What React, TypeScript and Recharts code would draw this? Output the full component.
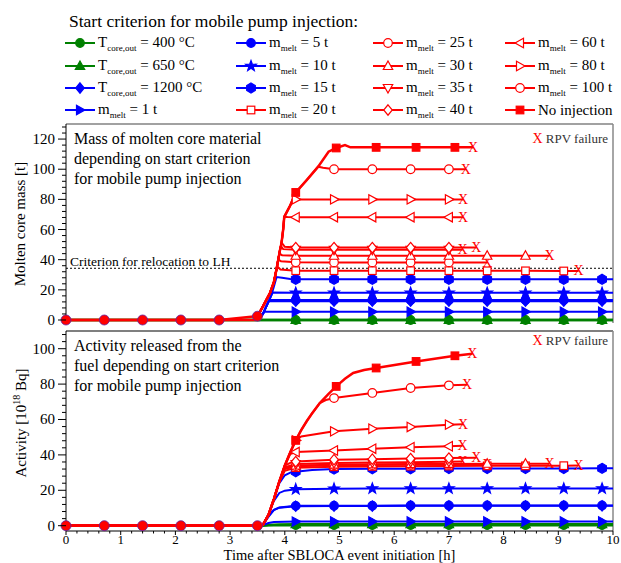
import React from 'react';
import { LineChart, Line, XAxis, YAxis, ReferenceLine } from 'recharts';

const FONT = "'Liberation Serif', 'Times New Roman', Times, serif";
const RED = '#ff0000';
const BLUE = '#0000ff';
const GREEN = '#008000';

// axis ticks
const X_MAJOR = [0, 1, 2, 3, 4, 5, 6, 7, 8, 9, 10];
const MASS_MAJOR = [0, 20, 40, 60, 80, 100, 120];
const ACT_MAJOR = [0, 20, 40, 60, 80, 100];
const X_TICKS = Array.from({ length: 51 }, (_, i) => Math.round(i * 2) / 10);
const MASS_TICKS = Array.from({ length: 33 }, (_, i) => i * 4);
const ACT_TICKS = Array.from({ length: 28 }, (_, i) => i * 4);

// marker times [h]
const MK = [4.2, 4.9, 5.6, 6.3, 7.0, 7.7, 8.4, 9.1, 9.8];
const MK_70 = [4.2, 4.9, 5.6, 6.3, 7.0];
const MK_84 = [4.2, 4.9, 5.6, 6.3, 7.0, 7.7, 8.4];
const MK_91 = [4.2, 4.9, 5.6, 6.3, 7.0, 7.7, 8.4, 9.1];
const MK_100 = [4.9, 5.6, 6.3, 7.0];
const MK_NOINJ = [4.2, 4.94, 5.67, 6.4, 7.11];

// common phase before core degradation
const PRE_T = [0, 0.7, 1.4, 2.1, 2.8, 3.5];
const PRE_MASS = [0, 0, 0, 0, 0, 2.5];
const PRE_ACT = [0, 0, 0, 0, 0, 0];

// ---- green: T_core,out criteria
const T_FLAT = [0, 3.5, 4.2, 4.9, 5.6, 6.3, 7.0, 7.7, 8.4, 9.1, 9.8, 10];
const g400M = [0, 0, 0, 0, 0, 0, 0, 0, 0, 0, 0, 0];
const g650M = [0, 0, 0, 0, 0, 0, 0, 0, 0, 0, 0, 0];
const gActT = [0, 3.55, 3.7, 3.9, 4.2, 4.9, 5.6, 6.3, 7.0, 7.7, 8.4, 9.1, 9.8, 10];
const g400A = [0, 0, 0.2, 0.3, 0.3, 0.3, 0.3, 0.3, 0.3, 0.3, 0.3, 0.3, 0.3, 0.3];
const g650A = [0, 0, 0.4, 0.7, 0.8, 0.8, 0.8, 0.8, 0.8, 0.8, 0.8, 0.8, 0.8, 0.8];

// ---- blue
const b1200MT = [0, 3.45, 3.5, 3.55, 3.6, 3.65, 3.7, 3.72, 4.2, 4.9, 5.6, 6.3, 7.0, 7.7, 8.4, 9.1, 9.8, 10];
const b1200MV = [0, 0, 0.5, 1.5, 4, 8, 12, 12.6, 12.5, 12.5, 12.5, 12.5, 12.5, 12.5, 12.5, 12.5, 12.5, 12.5];
const b1200AT = [0, 3.55, 3.6, 3.7, 3.8, 3.9, 4.2, 4.9, 5.6, 6.3, 7.0, 7.7, 8.4, 9.1, 9.8, 10];
const b1200AV = [0, 0, 0.5, 5, 8.8, 10.2, 11, 11.1, 11.1, 11.2, 11.2, 11.2, 11.2, 11.2, 11.2, 11.2];

const b1MT = [0, 3.45, 3.5, 3.55, 3.6, 3.63, 4.2, 4.9, 5.6, 6.3, 7.0, 7.7, 8.4, 9.1, 9.8, 10];
const b1MV = [0, 0, 0.5, 2, 4.5, 5.5, 5.5, 5.5, 5.5, 5.5, 5.5, 5.5, 5.5, 5.5, 5.5, 5.5];
const b1AT = [0, 3.55, 3.6, 3.7, 3.8, 4.2, 4.9, 5.6, 6.3, 7.0, 7.7, 8.4, 9.1, 9.8, 10];
const b1AV = [0, 0, 0.3, 1.5, 2.1, 2.3, 2.4, 2.4, 2.4, 2.4, 2.4, 2.4, 2.4, 2.4, 2.4];

const b5MT = [0, 3.45, 3.5, 3.55, 3.6, 3.65, 3.7, 3.73, 4.2, 4.9, 5.6, 6.3, 7.0, 7.7, 8.4, 9.1, 9.8, 10];
const b5MV = [0, 0, 0.5, 1.5, 4, 8, 12, 13.3, 13.3, 13.3, 13.3, 13.3, 13.3, 13.3, 13.3, 13.3, 13.3, 13.3];
const b5AT = [0, 3.55, 3.6, 3.7, 3.8, 3.9, 4.2, 4.9, 5.6, 6.3, 7.0, 7.7, 8.4, 9.1, 9.8, 10];
const b5AV = [0, 0, 0.5, 5.5, 9, 10.3, 11.2, 11.3, 11.3, 11.4, 11.4, 11.4, 11.4, 11.4, 11.4, 11.4];

const b10MT = [0, 3.45, 3.5, 3.55, 3.6, 3.65, 3.7, 3.75, 3.78, 4.2, 4.9, 5.6, 6.3, 7.0, 7.7, 8.4, 9.1, 9.8, 10];
const b10MV = [0, 0, 0.5, 1.5, 4, 8, 12, 16, 18.3, 18, 18, 18, 18, 18, 18, 18, 18, 18, 18];
const b10AT = [0, 3.55, 3.6, 3.7, 3.8, 3.9, 4.0, 4.2, 4.9, 5.6, 6.3, 7.0, 7.7, 8.4, 9.1, 9.8, 10];
const b10AV = [0, 0, 0.5, 6, 14, 18.5, 19.8, 20.6, 20.9, 21, 21, 21, 21, 21, 21, 21, 21];

const b15MT = [0, 3.45, 3.5, 3.55, 3.6, 3.65, 3.7, 3.75, 3.8, 3.85, 3.95, 4.1, 4.2, 4.9, 5.6, 6.3, 7.0, 7.7, 8.4, 9.1, 9.8, 10];
const b15MV = [0, 0, 0.5, 1.5, 4, 8, 12, 16, 22, 28.5, 28, 27.2, 27, 27, 27, 27, 27, 27, 27, 27, 27, 27];
const b15AT = [0, 3.55, 3.6, 3.7, 3.8, 3.9, 4.0, 4.1, 4.2, 4.5, 4.9, 5.6, 6.3, 7.0, 7.7, 8.4, 9.1, 9.8, 10];
const b15AV = [0, 0, 0.5, 6, 15, 24, 28.5, 30, 30.5, 31.5, 32, 32.2, 32.2, 32.3, 32.3, 32.3, 32.3, 32.4, 32.4];

// ---- red: melt mass criteria and no injection
const r20MT = [0, 3.45, 3.5, 3.6, 3.73, 3.8, 3.85, 3.87, 3.92, 4.2, 4.9, 5.6, 6.3, 7.0, 7.7, 8.4, 9.1, 9.37];
const r20MV = [0, 0, 2.5, 9, 18, 25, 34, 35.3, 33.5, 32.7, 32.7, 32.7, 32.7, 32.7, 32.6, 32.6, 32.5, 32.5];
const r20AT = [0, 3.55, 3.6, 3.7, 3.8, 3.9, 4.0, 4.2, 4.9, 5.6, 6.3, 7.0, 7.7, 8.4, 9.1, 9.37];
const r20AV = [0, 0, 0.5, 6, 15, 25, 31, 32.8, 33.3, 33.5, 33.6, 33.7, 33.8, 33.8, 33.9, 34];

const r25MT = [0, 3.45, 3.5, 3.6, 3.73, 3.8, 3.85, 3.88, 3.93, 4.2, 4.9, 5.6, 6.3, 7.0, 7.7];
const r25MV = [0, 0, 2.5, 9, 18, 25, 34, 40, 39, 38.3, 38.2, 38.2, 38.2, 38.2, 38.2];
const r25AT = [0, 3.55, 3.6, 3.7, 3.8, 3.9, 4.0, 4.2, 4.9, 5.6, 6.3, 7.0, 7.7];
const r25AV = [0, 0, 0.5, 6, 15, 25, 32, 33.6, 34.1, 34.3, 34.4, 34.5, 34.6];

const r30MT = [0, 3.45, 3.5, 3.6, 3.73, 3.8, 3.85, 3.88, 3.9, 3.95, 4.2, 4.9, 5.6, 6.3, 7.0, 7.7, 8.4, 8.84];
const r30MV = [0, 0, 2.5, 9, 18, 25, 34, 40, 44, 43, 42.6, 42.6, 42.6, 42.6, 42.6, 42.6, 42.6, 42.6];
const r30AT = [0, 3.55, 3.6, 3.7, 3.8, 3.9, 4.0, 4.2, 4.9, 5.6, 6.3, 7.0, 7.7, 8.4, 8.84];
const r30AV = [0, 0, 0.5, 6, 15, 25, 32.5, 34, 34.5, 34.7, 34.8, 34.9, 35, 35, 35];

const r35MT = [0, 3.45, 3.5, 3.6, 3.73, 3.8, 3.85, 3.88, 3.91, 3.93, 3.97, 4.2, 4.9, 5.6, 6.3, 7.0, 7.25];
const r35MV = [0, 0, 2.5, 9, 18, 25, 34, 40, 46, 49, 47, 46.6, 46.6, 46.6, 46.6, 46.6, 46.6];
const r35AT = [0, 3.55, 3.6, 3.7, 3.8, 3.9, 4.0, 4.2, 4.9, 5.6, 6.3, 7.0, 7.25];
const r35AV = [0, 0, 0.5, 6, 15, 25, 33, 34.8, 35.4, 35.7, 35.9, 36.1, 36.2];

const r40MT = [0, 3.45, 3.5, 3.6, 3.73, 3.8, 3.85, 3.88, 3.91, 3.94, 3.96, 4.0, 4.2, 4.9, 5.6, 6.3, 7.0, 7.5];
const r40MV = [0, 0, 2.5, 9, 18, 25, 34, 40, 46, 51, 50.5, 48.5, 48, 48, 48, 48, 48, 48];
const r40AT = [0, 3.55, 3.6, 3.7, 3.8, 3.9, 4.0, 4.1, 4.2, 4.9, 5.6, 6.3, 7.0, 7.5];
const r40AV = [0, 0, 0.5, 6, 15, 25, 34, 35.5, 36.2, 37.3, 37.6, 37.9, 38.2, 38.4];

const r60MT = [0, 3.45, 3.5, 3.6, 3.73, 3.8, 3.85, 3.88, 3.91, 3.94, 3.97, 3.99, 4.05, 4.2, 4.9, 5.6, 6.3, 7.0, 7.26];
const r60MV = [0, 0, 2.5, 9, 18, 25, 34, 40, 46, 51, 60, 68.4, 68.3, 68.2, 68.2, 68.2, 68.2, 68.2, 68.2];
const r60AT = [0, 3.55, 3.6, 3.7, 3.8, 3.9, 4.0, 4.1, 4.2, 4.9, 5.6, 6.3, 7.0, 7.25];
const r60AV = [0, 0, 0.5, 6, 15, 25, 34, 40.5, 41.6, 42.5, 43.5, 44.3, 44.9, 45.1];

const r80MT = [0, 3.45, 3.5, 3.6, 3.73, 3.8, 3.85, 3.88, 3.91, 3.94, 3.97, 3.99, 4.1, 4.15, 4.2, 4.9, 5.6, 6.3, 7.0, 7.26];
const r80MV = [0, 0, 2.5, 9, 18, 25, 34, 40, 46, 51, 60, 68.4, 76, 80.5, 80, 80, 80, 80, 80, 80];
const r80AT = [0, 3.55, 3.6, 3.7, 3.8, 3.9, 4.0, 4.1, 4.2, 4.3, 4.9, 5.6, 6.3, 7.0, 7.26];
const r80AV = [0, 0, 0.5, 6, 15, 25, 34, 41.5, 48.2, 50.4, 53.3, 54.8, 55.8, 57.1, 57.3];

const r100MT = [0, 3.45, 3.5, 3.6, 3.73, 3.8, 3.85, 3.88, 3.91, 3.94, 3.97, 3.99, 4.1, 4.2, 4.4, 4.61, 4.7, 4.9, 5.6, 6.3, 7.0, 7.31];
const r100MV = [0, 0, 2.5, 9, 18, 25, 34, 40, 46, 51, 60, 68.4, 76, 84.6, 92.8, 101.7, 101, 100, 100, 100, 100, 100];
const r100AT = [0, 3.55, 3.6, 3.7, 3.8, 3.9, 4.0, 4.1, 4.2, 4.3, 4.4, 4.5, 4.64, 4.75, 4.9, 5.6, 6.3, 7.0, 7.33];
const r100AV = [0, 0, 0.5, 6, 15, 25, 34, 41.5, 48.2, 54, 59, 63.5, 69.3, 71, 72.1, 75, 77.8, 79.3, 79.7];

const rNoMT = [0, 3.45, 3.5, 3.6, 3.73, 3.8, 3.85, 3.88, 3.91, 3.94, 3.97, 3.99, 4.1, 4.2, 4.4, 4.61, 4.8, 4.94, 5.1, 5.2, 5.67, 6.4, 7.11, 7.44];
const rNoMV = [0, 0, 2.5, 9, 18, 25, 34, 40, 46, 51, 60, 68.4, 76, 84.6, 92.8, 101.7, 111.6, 114.1, 116, 114.5, 114.5, 114.5, 114.5, 114.5];
const rNoAT = [0, 3.55, 3.6, 3.7, 3.8, 3.9, 4.0, 4.1, 4.2, 4.3, 4.4, 4.5, 4.64, 4.8, 4.94, 5.1, 5.25, 5.45, 5.67, 6.4, 7.11, 7.43];
const rNoAV = [0, 0, 0.5, 6, 15, 25, 34, 41.5, 48.2, 54, 59, 63.5, 69.3, 74.5, 78.7, 83, 86.3, 88, 89.1, 92.8, 96, 97.2];

type Shape = 'circle' | 'square' | 'diamond' | 'triUp' | 'triDown' | 'triLeft' | 'triRight' | 'star' | 'hexagon';

interface Series {
  id: string;
  color: string;
  shape: Shape;
  filled: boolean;
  sym: string;
  sub: string;
  rest: string;
  mk: number[];
  rpv: boolean;
  w: number;
  mT: number[];
  mV: number[];
  aT: number[];
  aV: number[];
}

const SERIES: Series[] = [
  { id: 'g400', color: GREEN, shape: 'circle', filled: true, sym: 'T', sub: 'core,out', rest: ' = 400 °C', mk: MK, rpv: false, w: 2.5, mT: T_FLAT, mV: g400M, aT: gActT, aV: g400A },
  { id: 'g650', color: GREEN, shape: 'triUp', filled: true, sym: 'T', sub: 'core,out', rest: ' = 650 °C', mk: MK, rpv: false, w: 2.5, mT: T_FLAT, mV: g650M, aT: gActT, aV: g650A },
  { id: 'b1200', color: BLUE, shape: 'diamond', filled: true, sym: 'T', sub: 'core,out', rest: ' = 1200 °C', mk: MK, rpv: false, w: 2, mT: b1200MT, mV: b1200MV, aT: b1200AT, aV: b1200AV },
  { id: 'b1', color: BLUE, shape: 'triRight', filled: true, sym: 'm', sub: 'melt', rest: ' = 1 t', mk: MK, rpv: false, w: 2, mT: b1MT, mV: b1MV, aT: b1AT, aV: b1AV },
  { id: 'b5', color: BLUE, shape: 'circle', filled: true, sym: 'm', sub: 'melt', rest: ' = 5 t', mk: MK, rpv: false, w: 2, mT: b5MT, mV: b5MV, aT: b5AT, aV: b5AV },
  { id: 'b10', color: BLUE, shape: 'star', filled: true, sym: 'm', sub: 'melt', rest: ' = 10 t', mk: MK, rpv: false, w: 2, mT: b10MT, mV: b10MV, aT: b10AT, aV: b10AV },
  { id: 'b15', color: BLUE, shape: 'hexagon', filled: true, sym: 'm', sub: 'melt', rest: ' = 15 t', mk: MK, rpv: false, w: 2, mT: b15MT, mV: b15MV, aT: b15AT, aV: b15AV },
  { id: 'r20', color: RED, shape: 'square', filled: false, sym: 'm', sub: 'melt', rest: ' = 20 t', mk: MK_91, rpv: true, w: 2, mT: r20MT, mV: r20MV, aT: r20AT, aV: r20AV },
  { id: 'r25', color: RED, shape: 'circle', filled: false, sym: 'm', sub: 'melt', rest: ' = 25 t', mk: MK_70, rpv: true, w: 2, mT: r25MT, mV: r25MV, aT: r25AT, aV: r25AV },
  { id: 'r30', color: RED, shape: 'triUp', filled: false, sym: 'm', sub: 'melt', rest: ' = 30 t', mk: MK_84, rpv: true, w: 2, mT: r30MT, mV: r30MV, aT: r30AT, aV: r30AV },
  { id: 'r35', color: RED, shape: 'triDown', filled: false, sym: 'm', sub: 'melt', rest: ' = 35 t', mk: MK_70, rpv: true, w: 2, mT: r35MT, mV: r35MV, aT: r35AT, aV: r35AV },
  { id: 'r40', color: RED, shape: 'diamond', filled: false, sym: 'm', sub: 'melt', rest: ' = 40 t', mk: MK_70, rpv: true, w: 2, mT: r40MT, mV: r40MV, aT: r40AT, aV: r40AV },
  { id: 'r60', color: RED, shape: 'triLeft', filled: false, sym: 'm', sub: 'melt', rest: ' = 60 t', mk: MK_70, rpv: true, w: 2, mT: r60MT, mV: r60MV, aT: r60AT, aV: r60AV },
  { id: 'r80', color: RED, shape: 'triRight', filled: false, sym: 'm', sub: 'melt', rest: ' = 80 t', mk: MK_70, rpv: true, w: 2, mT: r80MT, mV: r80MV, aT: r80AT, aV: r80AV },
  { id: 'r100', color: RED, shape: 'circle', filled: false, sym: 'm', sub: 'melt', rest: ' = 100 t', mk: MK_100, rpv: true, w: 2, mT: r100MT, mV: r100MV, aT: r100AT, aV: r100AV },
  { id: 'rno', color: RED, shape: 'square', filled: true, sym: '', sub: '', rest: 'No injection', mk: MK_NOINJ, rpv: true, w: 2.5, mT: rNoMT, mV: rNoMV, aT: rNoAT, aV: rNoAV },
];

const rows = (ts: number[], vs: number[], mk: number[], rpv: boolean) =>
  ts.map((t, i) => ({ t, v: vs[i], m: mk.includes(t), x: rpv && i === ts.length - 1 }));

function Marker({ shape, filled, color, x, y }: { shape: Shape; filled: boolean; color: string; x: number; y: number }) {
  const common = { fill: filled ? color : '#ffffff', stroke: color, strokeWidth: 1.2 };
  const pts = (arr: number[][]) => arr.map(([a, b]) => `${x + a},${y + b}`).join(' ');
  switch (shape) {
    case 'circle':
      return <circle cx={x} cy={y} r={4.3} {...common} />;
    case 'square':
      return <rect x={x - 3.8} y={y - 3.8} width={7.6} height={7.6} {...common} />;
    case 'diamond':
      return <polygon points={pts([[0, -5.2], [4.3, 0], [0, 5.2], [-4.3, 0]])} {...common} />;
    case 'triUp':
      return <polygon points={pts([[0, -5], [4.7, 3.5], [-4.7, 3.5]])} {...common} />;
    case 'triDown':
      return <polygon points={pts([[0, 5], [4.7, -3.5], [-4.7, -3.5]])} {...common} />;
    case 'triLeft':
      return <polygon points={pts([[-5, 0], [3.5, -4.7], [3.5, 4.7]])} {...common} />;
    case 'triRight':
      return <polygon points={pts([[5, 0], [-3.5, -4.7], [-3.5, 4.7]])} {...common} />;
    case 'star': {
      const p: number[][] = [];
      for (let k = 0; k < 10; k++) {
        const a = (-90 + k * 36) * Math.PI / 180;
        const rr = k % 2 === 0 ? 5.6 : 2.3;
        p.push([rr * Math.cos(a), rr * Math.sin(a)]);
      }
      return <polygon points={pts(p)} {...common} />;
    }
    case 'hexagon': {
      const p: number[][] = [];
      for (let k = 0; k < 6; k++) {
        const a = (k * 60 - 90) * Math.PI / 180;
        p.push([5 * Math.cos(a), 5 * Math.sin(a)]);
      }
      return <polygon points={pts(p)} {...common} />;
    }
  }
  return null;
}

const makeDot = (s: Series) => (p: any) => {
  const { cx, cy, payload, index } = p;
  const k = `${s.id}-${index}`;
  if (payload.x) {
    return (
      <text key={k} x={cx} y={cy + 4.5} textAnchor="middle" fontSize={14} fontFamily={FONT} fill={RED}>
        X
      </text>
    );
  }
  if (!payload.m) return <g key={k} />;
  return (
    <g key={k}>
      <Marker shape={s.shape} filled={s.filled} color={s.color} x={cx} y={cy} />
    </g>
  );
};

const preDot = (p: any) => (
  <circle key={`pre-${p.index}`} cx={p.cx} cy={p.cy} r={5} fill={RED} stroke="#6020a0" strokeWidth={0.8} />
);

const makeYTick = (major: number[]) => (p: any) => {
  const { x, y, payload } = p;
  const v = payload.value;
  const isMajor = major.includes(v);
  return (
    <g key={`yt-${v}`}>
      <line x1={x - (isMajor ? 8 : 4)} x2={x} y1={y} y2={y} stroke="#000" strokeWidth={1} />
      {isMajor && (
        <text x={x - 11} y={y + 5} textAnchor="end" fontSize={15} fontFamily={FONT} fill="#000">
          {v}
        </text>
      )}
    </g>
  );
};

const xTick = (p: any) => {
  const { x, y, payload } = p;
  const v = payload.value;
  const isMajor = X_MAJOR.includes(v);
  return (
    <g key={`xt-${v}`}>
      <line x1={x} x2={x} y1={y} y2={y + (isMajor ? 4 : 2.5)} stroke="#000" strokeWidth={1} />
      {isMajor && (
        <text x={x} y={y + 12.5} textAnchor="middle" fontSize={13} fontFamily={FONT} fill="#000">
          {v}
        </text>
      )}
    </g>
  );
};

const YTitle = ({ cx, cy, main, sup, tail }: { cx: number; cy: number; main: string; sup?: string; tail?: string }) => (
  <text transform={`rotate(-90 ${cx} ${cy})`} x={cx} y={cy + 5} textAnchor="middle" fontSize={15} fontFamily={FONT} fill="#000">
    <tspan>{main}</tspan>
    {sup && (
      <tspan dy={-6} fontSize={10}>
        {sup}
      </tspan>
    )}
    {tail && <tspan dy={sup ? 6 : 0}>{tail}</tspan>}
  </text>
);

const LEG_X = [65, 236, 373, 505];
const LEG_Y = [43, 65.5, 88, 110];

function LegendBlock() {
  return (
    <>
      {SERIES.map((s, i) => {
        const col = Math.floor(i / 4);
        const row = i % 4;
        return (
          <div
            key={s.id}
            style={{ position: 'absolute', left: LEG_X[col], top: LEG_Y[row] - 11, height: 22, display: 'flex', alignItems: 'center', whiteSpace: 'nowrap', fontSize: 15 }}
          >
            <svg width={30} height={22} style={{ display: 'block' }}>
              <line x1={0} x2={30} y1={11} y2={11} stroke={s.color} strokeWidth={2} />
              <Marker shape={s.shape} filled={s.filled} color={s.color} x={15} y={11} />
            </svg>
            <span style={{ marginLeft: 3, lineHeight: '22px' }}>
              {s.sym}
              {s.sub && <span style={{ fontSize: 9, position: 'relative', top: 4 }}>{s.sub}</span>}
              {s.rest}
            </span>
          </div>
        );
      })}
    </>
  );
}

const abs = (left: number, top: number, extra: React.CSSProperties = {}): React.CSSProperties => ({
  position: 'absolute',
  left,
  top,
  whiteSpace: 'nowrap',
  ...extra,
});

export default function App() {
  return (
    <div style={{ position: 'absolute', left: 0, top: 0, width: 621, height: 563, fontFamily: FONT, color: '#000', background: '#fff', overflow: 'hidden' }}>
      <div style={abs(69, 9, { fontSize: 17.5, lineHeight: '24px' })}>Start criterion for mobile pump injection:</div>
      <LegendBlock />

      {/* upper panel: molten core mass */}
      <div style={abs(0, 100)}>
        <LineChart width={621} height={230} margin={{ top: 24, right: 8, bottom: 7, left: 0 }}>
          <XAxis type="number" dataKey="t" domain={[0, 10]} hide />
          <YAxis
            type="number"
            domain={[-2, 130]}
            ticks={MASS_TICKS}
            interval={0}
            width={66}
            tickLine={false}
            tickSize={0}
            tickMargin={0}
            tick={makeYTick(MASS_MAJOR)}
            axisLine={{ stroke: '#000' }}
            label={<YTitle cx={20} cy={124} main="Molten core mass [t]" />}
          />
          <ReferenceLine y={130} stroke="#444" strokeWidth={1.2} ifOverflow="visible" />
          <ReferenceLine x={10} stroke="#888" strokeWidth={1.5} ifOverflow="visible" />
          <ReferenceLine y={34.3} stroke="#000" strokeWidth={1} strokeDasharray="2 2" />
          {SERIES.map((s) => (
            <Line
              key={s.id}
              data={rows(s.mT, s.mV, s.mk, s.rpv)}
              dataKey="v"
              type="linear"
              stroke={s.color}
              strokeWidth={s.w}
              dot={makeDot(s)}
              activeDot={false}
              isAnimationActive={false}
            />
          ))}
          <Line data={rows(PRE_T, PRE_MASS, PRE_T, false)} dataKey="v" type="linear" stroke={RED} strokeWidth={2.5} dot={preDot} activeDot={false} isAnimationActive={false} />
        </LineChart>
      </div>

      {/* lower panel: released activity */}
      <div style={abs(0, 325)}>
        <LineChart width={621} height={238} margin={{ top: 6, right: 8, bottom: 0, left: 0 }}>
          <XAxis
            type="number"
            dataKey="t"
            domain={[0, 10]}
            ticks={X_TICKS}
            interval={0}
            height={32}
            tickLine={false}
            tickSize={0}
            tickMargin={0}
            tick={xTick}
            axisLine={{ stroke: '#000' }}
            label={{ value: 'Time after SBLOCA event initiation [h]', position: 'insideBottom', offset: 3.2, fontSize: 14.5, fontFamily: FONT, fill: '#000' }}
          />
          <YAxis
            type="number"
            domain={[-3, 110]}
            ticks={ACT_TICKS}
            interval={0}
            width={66}
            tickLine={false}
            tickSize={0}
            tickMargin={0}
            tick={makeYTick(ACT_MAJOR)}
            axisLine={{ stroke: '#000' }}
            label={<YTitle cx={21} cy={98} main="Activity [10" sup="18" tail=" Bq]" />}
          />
          <ReferenceLine y={110} stroke="#000" strokeWidth={1.2} ifOverflow="visible" />
          <ReferenceLine x={10} stroke="#888" strokeWidth={1.5} ifOverflow="visible" />
          {SERIES.map((s) => (
            <Line
              key={s.id}
              data={rows(s.aT, s.aV, s.mk, s.rpv)}
              dataKey="v"
              type="linear"
              stroke={s.color}
              strokeWidth={s.w}
              dot={makeDot(s)}
              activeDot={false}
              isAnimationActive={false}
            />
          ))}
          <Line data={rows(PRE_T, PRE_ACT, PRE_T, false)} dataKey="v" type="linear" stroke={RED} strokeWidth={2.5} dot={preDot} activeDot={false} isAnimationActive={false} />
        </LineChart>
      </div>

      {/* panel annotations */}
      <div style={abs(74, 129, { fontSize: 16, lineHeight: '20px' })}>
        Mass of molten core material
        <br />
        depending on start criterion
        <br />
        for mobile pump injection
      </div>
      <div style={abs(70, 254, { fontSize: 13.5, lineHeight: '16px' })}>Criterion for relocation to LH</div>
      <div style={{ ...abs(0, 131, { fontSize: 13, lineHeight: '16px' }), left: undefined, right: 13 }}>
        <span style={{ color: RED, fontSize: 14 }}>X</span> <span style={{ color: '#333' }}>RPV failure</span>
      </div>

      <div style={abs(74, 336, { fontSize: 16, lineHeight: '20px' })}>
        Activity released from the
        <br />
        fuel depending on start criterion
        <br />
        for mobile pump injection
      </div>
      <div style={{ ...abs(0, 333, { fontSize: 13, lineHeight: '16px' }), left: undefined, right: 13 }}>
        <span style={{ color: RED, fontSize: 14 }}>X</span> <span style={{ color: '#333' }}>RPV failure</span>
      </div>
    </div>
  );
}
